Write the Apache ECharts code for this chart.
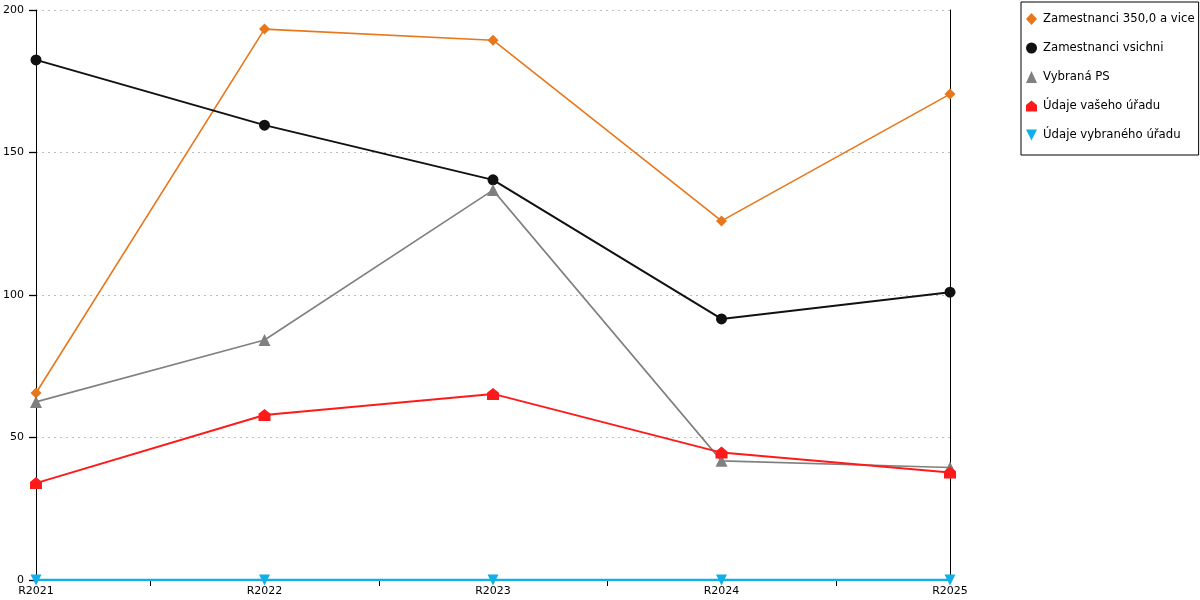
<!DOCTYPE html>
<html lang="cs">
<head>
    <meta charset="UTF-8">
    <title>Zamestnanci</title>
    <script src="https://cdn.jsdelivr.net/npm/echarts@6/dist/echarts.min.js"></script>
    <style>
        body { margin: 0; background: #fff; }
        #chart { width: 1200px; height: 600px; }
    </style>
</head>
<body>
    <div id="chart"></div>
    <script>
        var categories = ['R2021', 'R2022', 'R2023', 'R2024', 'R2025'];
        var midTicks = ['', '', '', ''];   // ticks between the years
        var zam350 = [65.6, 193.3, 189.4, 126.0, 170.5];
        var zamVsichni = [182.5, 159.6, 140.4, 91.6, 101.0];
        var vybranaPS = [62.5, 84.2, 136.8, 41.8, 39.5];
        var vasUrad = [34.0, 57.9, 65.3, 44.7, 37.7];
        var vybranyUrad = [0, 0, 0, 0, 0];
        var yTicks = [0, 50, 100, 150, 200];

        var housePath = 'path://M0,10 L0,4 L5,0 L10,4 L10,10 Z';
        var downPath = 'path://M0,0 L10,0 L5,10 Z';
        var font = 'DejaVu Sans, sans-serif';

        var myChart = echarts.init(document.getElementById('chart'));

        function line(name, data, color, symbol, size, width) {
            return {
                name: name,
                type: 'line',
                data: data,
                symbol: symbol,
                symbolSize: size,
                showAllSymbol: true,
                lineStyle: { color: color, width: width },
                itemStyle: { color: color },
                emphasis: { disabled: true }
            };
        }

        myChart.setOption({
            animation: false,
            textStyle: { fontFamily: font },
            grid: { left: 36, right: 250, top: 10, bottom: 20 },
            legend: {
                orient: 'vertical',
                left: 1021,
                top: 2,
                padding: [11, 4, 14, 5],
                itemGap: 17,
                itemWidth: 11,
                itemHeight: 12,
                borderColor: '#000',
                borderWidth: 1,
                textStyle: { fontSize: 11.7, color: '#000', fontFamily: font, padding: [0, 0, 0, 1] },
                data: [
                    { name: 'Zamestnanci 350,0 a vice', icon: 'diamond' },
                    { name: 'Zamestnanci vsichni', icon: 'circle' },
                    { name: 'Vybraná PS', icon: 'triangle' },
                    { name: 'Údaje vašeho úřadu', icon: housePath },
                    { name: 'Údaje vybraného úřadu', icon: downPath }
                ]
            },
            xAxis: [{
                type: 'category',
                data: categories,
                boundaryGap: false,
                axisLine: { show: true, lineStyle: { color: '#000', width: 1 } },
                axisTick: { show: false },
                axisLabel: { color: '#000', fontSize: 11, margin: 6, fontFamily: font },
                splitLine: { show: false }
            }, {
                type: 'category',
                data: midTicks,
                position: 'bottom',
                boundaryGap: true,
                axisLine: { show: false },
                axisTick: { show: true, alignWithLabel: true, length: 6,
                    lineStyle: { color: '#000' } },
                axisLabel: { show: false },
                splitLine: { show: false }
            }],
            yAxis: [{
                type: 'value',
                min: yTicks[0],
                max: yTicks[yTicks.length - 1],
                interval: 50,
                axisLine: { show: true, lineStyle: { color: '#000', width: 1 } },
                axisTick: { show: true, length: 7, lineStyle: { color: '#000', width: 1.3 } },
                axisLabel: { color: '#000', fontSize: 11, margin: 12, fontFamily: font },
                splitLine: { show: true, lineStyle: { color: '#bbb', type: [2, 4], width: 1 } }
            }, {
                type: 'value',
                position: 'right',
                min: yTicks[0],
                max: yTicks[yTicks.length - 1],
                interval: 50,
                axisLine: { show: true, lineStyle: { color: '#000', width: 1 } },
                axisTick: { show: false },
                axisLabel: { show: false },
                splitLine: { show: false }
            }],
            series: [
                line('Zamestnanci 350,0 a vice', zam350, '#e8761a', 'diamond', 11, 1.6),
                line('Zamestnanci vsichni', zamVsichni, '#111', 'circle', 11, 2),
                line('Vybraná PS', vybranaPS, '#808080', 'triangle', 12, 1.6),
                line('Údaje vašeho úřadu', vasUrad, '#ff1a1a', housePath, 12, 2),
                line('Údaje vybraného úřadu', vybranyUrad, '#0fb0e8', downPath, 11, 2.5)
            ]
        });
    </script>
</body>
</html>
